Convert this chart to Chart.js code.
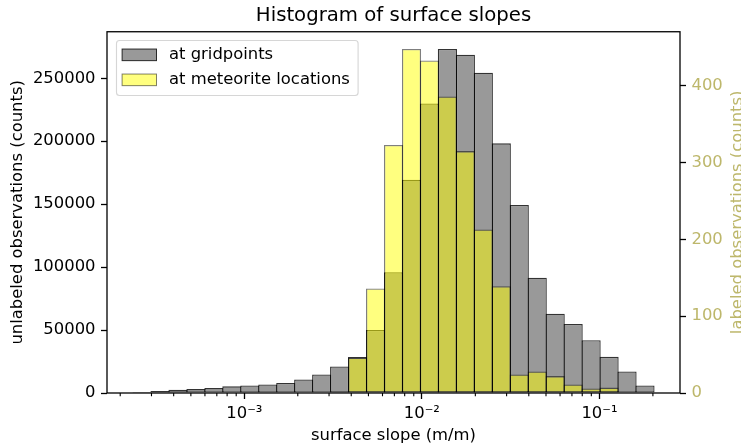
<!DOCTYPE html>
<html>
<head>
<meta charset="utf-8">
<title>Histogram of surface slopes</title>
<script src="https://cdn.jsdelivr.net/npm/chart.js@4.4.1/dist/chart.umd.min.js"></script>
<style>
  html, body { margin: 0; padding: 0; background: #fff; }
  #wrap { width: 741px; height: 448px; }
</style>
</head>
<body>
<div id="wrap"><canvas id="chart" width="741" height="448"></canvas></div>
<script>
// --- Data ---
// centres of the log-spaced slope bins (m/m)
const binCenters = [
    2.655e-4, 3.351e-4, 4.230e-4, 5.340e-4, 6.741e-4, 8.508e-4,
    1.074e-3, 1.356e-3, 1.712e-3, 2.160e-3, 2.727e-3, 3.442e-3,
    4.345e-3, 5.484e-3, 6.923e-3, 8.739e-3, 1.103e-2, 1.392e-2,
    1.757e-2, 2.218e-2, 2.800e-2, 3.535e-2, 4.462e-2, 5.632e-2,
    7.110e-2, 8.975e-2, 0.1133, 0.1430, 0.1805
];
// unlabeled observations (left axis)
const gridCounts = [
    800, 1500, 2600, 3100, 3900, 5300,
    6000, 6800, 7900, 10800, 14700, 21100,
    28500, 50000, 96000, 169400, 230000, 273300,
    268700, 254400, 198300, 149400, 91500, 63000,
    54800, 42000, 28700, 17100, 5900
];
// labeled observations at meteorite locations (right axis)
const meteoriteCounts = [
    0, 0, 0, 0, 0, 0,
    0, 0, 0, 0, 0, 2,
    46, 136, 323, 448, 433, 386,
    315, 213, 139, 24, 28, 22,
    11, 6, 7, 0, 0
];
const xTickValues = [1e-3, 1e-2, 1e-1];
const xTickLabels = ['10⁻³', '10⁻²', '10⁻¹'];
const yTickValues = [0, 50000, 100000, 150000, 200000, 250000];
const y1TickValues = [0, 100, 200, 300, 400];
const xMin = 1.685e-4;
const xMax = 0.2842;

const FONT = 'DejaVu Sans';
const KHAKI = '#bdb76b';
const FS = 16.4;

Chart.defaults.font.family = FONT;
Chart.defaults.font.size = FS;
Chart.defaults.color = '#000';

// minor log ticks, axes frame, legend box and right axis label
const decorations = {
    id: 'decorations',
    afterDraw(chart) {
        const { ctx, chartArea: a, scales } = chart;
        const x = scales.x;
        ctx.save();

        ctx.strokeStyle = '#000';
        ctx.lineWidth = 1.1;
        ctx.beginPath();
        for (let e = -5; e <= 0; e++) {
            for (let m = 2; m <= 9; m++) {
                const v = m * Math.pow(10, e);
                if (v < x.min || v > x.max) continue;
                const px = x.getPixelForValue(v);
                ctx.moveTo(px, a.bottom);
                ctx.lineTo(px, a.bottom + 3.3);
            }
        }
        ctx.stroke();

        ctx.lineWidth = 1.3;
        ctx.strokeRect(a.left, a.top, a.right - a.left, a.bottom - a.top);

        // legend
        const lx = a.left + 9.5, ly = a.top + 8.8, lw = 241.6, lh = 55;
        ctx.beginPath();
        ctx.roundRect(lx, ly, lw, lh, 3);
        ctx.fillStyle = 'rgba(255,255,255,0.8)';
        ctx.fill();
        ctx.strokeStyle = 'rgba(204,204,204,0.8)';
        ctx.lineWidth = 1.1;
        ctx.stroke();
        ctx.font = `${FS}px ${FONT}`;
        ctx.textBaseline = 'middle';
        ctx.textAlign = 'left';
        chart.data.datasets.forEach((ds, i) => {
            const ry = ly + 14.3 + i * 25;
            ctx.fillStyle = ds.backgroundColor;
            ctx.fillRect(lx + 5.6, ry - 5.8, 34.4, 11.6);
            ctx.strokeStyle = ds.borderColor;
            ctx.lineWidth = 1;
            ctx.strokeRect(lx + 5.6, ry - 5.8, 34.4, 11.6);
            ctx.fillStyle = '#000';
            ctx.fillText(ds.label, lx + 52.5, ry);
        });

        // right axis title, reads bottom to top like the left one
        ctx.translate(chart.width + 0.5, (a.top + a.bottom) / 2);
        ctx.rotate(-Math.PI / 2);
        ctx.textAlign = 'center';
        ctx.textBaseline = 'alphabetic';
        ctx.fillStyle = KHAKI;
        ctx.fillText('labeled observations (counts)', 0, 0);
        ctx.restore();
    }
};

const tickGrid = { drawOnChartArea: false, tickLength: 6, tickColor: '#000', tickWidth: 1.3, offset: false };

new Chart(document.getElementById('chart'), {
    type: 'bar',
    data: {
        datasets: [
            {
                label: 'at gridpoints',
                data: binCenters.map((c, i) => ({ x: c, y: gridCounts[i] })),
                yAxisID: 'y',
                backgroundColor: 'rgba(128,128,128,0.8)',
                borderColor: 'rgba(0,0,0,0.8)',
                borderWidth: 1.3,
                borderSkipped: false,
                grouped: false,
                barPercentage: 1.07,
                categoryPercentage: 1,
                order: 1
            },
            {
                label: 'at meteorite locations',
                data: binCenters.map((c, i) => ({ x: c, y: meteoriteCounts[i] })),
                yAxisID: 'y1',
                backgroundColor: 'rgba(255,255,0,0.5)',
                borderColor: 'rgba(0,0,0,0.5)',
                borderWidth: 1.3,
                borderSkipped: false,
                grouped: false,
                barPercentage: 1.07,
                categoryPercentage: 1,
                order: 0
            }
        ]
    },
    options: {
        responsive: false,
        animation: false,
        devicePixelRatio: 1,
        layout: { padding: 0 },
        plugins: {
            legend: { display: false },
            tooltip: { enabled: false },
            title: {
                display: true,
                fullSize: false,
                text: 'Histogram of surface slopes',
                color: '#000',
                font: { size: 19.7, weight: 'normal' },
                padding: { top: 4, bottom: 4.1 }
            }
        },
        scales: {
            x: {
                type: 'logarithmic',
                min: xMin,
                max: xMax,
                bounds: 'data',
                offset: false,
                grid: tickGrid,
                border: { display: false },
                afterBuildTicks: s => { s.ticks = xTickValues.map(v => ({ value: v })); },
                ticks: {
                    autoSkip: false,
                    maxRotation: 0,
                    padding: 5,
                    callback: v => { const i = xTickValues.indexOf(v); return i < 0 ? '' : xTickLabels[i]; }
                },
                title: { display: true, text: 'surface slope (m/m)', padding: { top: 0, bottom: 2.6 } },
                afterFit: s => { s.height = 55; }
            },
            y: {
                position: 'left',
                min: 0,
                max: Math.max(...gridCounts) * 1.05,
                grid: tickGrid,
                border: { display: false },
                afterBuildTicks: s => { s.ticks = yTickValues.map(v => ({ value: v })); },
                ticks: { autoSkip: false, padding: 5.5, callback: v => String(v) },
                title: { display: true, text: 'unlabeled observations (counts)', padding: { top: 7.8, bottom: 0 } },
                afterFit: s => { s.width = 107; }
            },
            y1: {
                position: 'right',
                min: 0,
                max: Math.max(...meteoriteCounts) * 1.05,
                grid: tickGrid,
                border: { display: false },
                afterBuildTicks: s => { s.ticks = y1TickValues.map(v => ({ value: v })); },
                ticks: { autoSkip: false, padding: 5.5, color: KHAKI, callback: v => String(v) },
                afterFit: s => { s.width = 61; }
            }
        }
    },
    plugins: [decorations]
});
</script>
</body>
</html>
